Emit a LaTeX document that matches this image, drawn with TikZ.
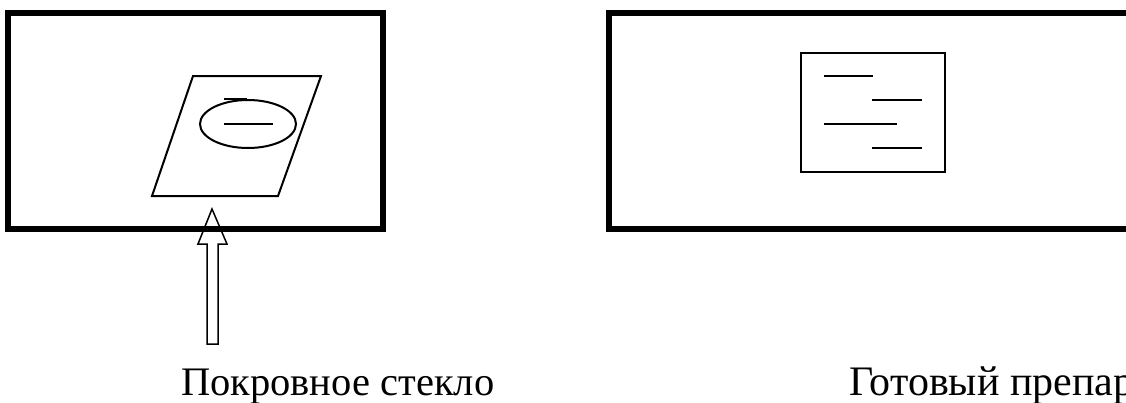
\documentclass[tikz,border=0pt]{standalone}
\usepackage{fontspec}
\setmainfont{Liberation Serif}
\begin{document}
\begin{tikzpicture}[x=1pt,y=-1pt,
  frame/.style={draw,line width=6pt},
  thin/.style={draw,line width=2pt},
  hair/.style={draw,line width=1.5pt},
  lbl/.style={font=\fontsize{40.5}{46}\selectfont,anchor=base west,inner sep=0pt}]
\useasboundingbox (0,0) rectangle (1126,402);
% left slide
\draw[frame] (8,13) rectangle (383,229);
% cover glass parallelogram
\draw[thin,line join=miter] (193,76) -- (321,76) -- (278,196) -- (152,196) -- cycle;
\draw[thin] (248,124) ellipse [x radius=48,y radius=24];
\draw[hair] (224,124) -- (273,124);
\draw[hair] (224,99) -- (247,99);
% arrow
\coordinate (tip) at (212,209);
\draw[hair,line join=miter] (tip) -- (227,244) -- (218,244) -- (218,344) -- (207,344) -- (207,244) -- (198,244) -- cycle;
% right slide
\draw[frame] (609,13) rectangle (1140,229);
\draw[thin] (801,53) rectangle (945,172);
\draw[hair] (824,76) -- (873,76);
\draw[hair] (872,100) -- (922,100);
\draw[hair] (824,124) -- (897,124);
\draw[hair] (872,148) -- (922,148);
% labels
\node[lbl] (l1) at (181,395) {Покровное стекло};
\node[lbl,font=\fontsize{42}{48}\selectfont] (l2) at (849,395) {Готовый препарат};
\end{tikzpicture}
\end{document}
